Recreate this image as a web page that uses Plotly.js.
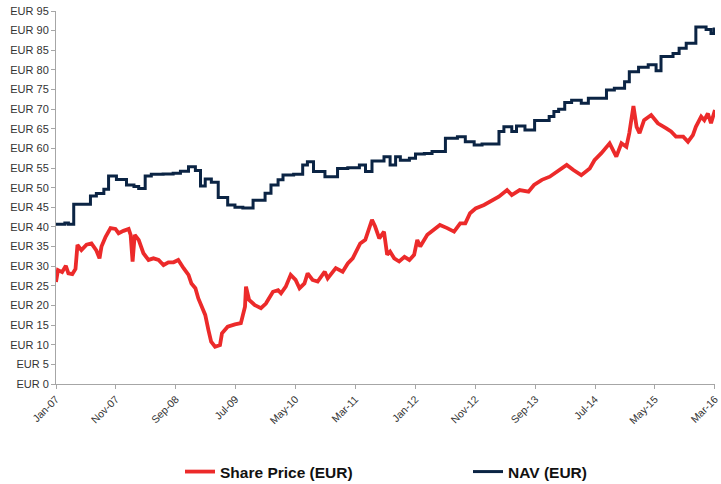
<!DOCTYPE html>
<html>
<head>
<meta charset="utf-8">
<script src="https://cdn.plot.ly/plotly-3.0.1.min.js"></script>
<style>html,body{margin:0;padding:0;background:#fff;}#chart{width:721px;height:484px;}</style>
</head>
<body>
<div id="chart"></div>
<script>
// Share price (EUR)
const shareDates = ["2007-01-01","2007-01-11","2007-02-01","2007-02-20","2007-03-05","2007-03-25","2007-04-10","2007-04-20","2007-05-10","2007-06-05","2007-06-30","2007-07-25","2007-08-10","2007-08-20","2007-09-10","2007-10-05","2007-10-30","2007-11-15","2007-12-10","2008-01-05","2008-01-15","2008-01-25","2008-02-05","2008-02-25","2008-03-20","2008-04-15","2008-05-10","2008-06-05","2008-06-30","2008-07-25","2008-08-20","2008-09-13","2008-10-10","2008-11-04","2008-11-19","2008-12-09","2008-12-24","2009-01-09","2009-01-28","2009-02-13","2009-02-27","2009-03-19","2009-04-13","2009-04-23","2009-05-22","2009-06-28","2009-07-28","2009-08-18","2009-08-23","2009-09-08","2009-10-07","2009-11-07","2009-12-02","2010-01-07","2010-02-02","2010-02-17","2010-03-13","2010-04-07","2010-05-02","2010-05-22","2010-06-16","2010-07-02","2010-07-27","2010-08-22","2010-09-27","2010-10-12","2010-11-22","2010-12-27","2011-01-22","2011-02-16","2011-03-01","2011-03-26","2011-04-21","2011-05-10","2011-05-25","2011-06-10","2011-07-01","2011-07-25","2011-08-10","2011-08-25","2011-09-15","2011-10-10","2011-11-06","2011-12-01","2011-12-25","2012-01-10","2012-01-25","2012-03-01","2012-04-04","2012-05-04","2012-06-10","2012-07-15","2012-08-15","2012-09-10","2012-10-04","2012-11-01","2012-12-14","2013-01-14","2013-02-27","2013-04-10","2013-05-04","2013-06-13","2013-07-28","2013-08-25","2013-10-04","2013-11-13","2013-12-19","2014-02-07","2014-03-13","2014-04-22","2014-06-04","2014-06-28","2014-08-02","2014-09-13","2014-10-17","2014-11-12","2014-12-07","2014-12-22","2015-01-12","2015-01-28","2015-02-12","2015-03-07","2015-04-12","2015-05-16","2015-06-28","2015-07-22","2015-08-16","2015-09-22","2015-10-16","2015-11-10","2015-11-25","2015-12-22","2016-01-07","2016-01-25","2016-02-10","2016-03-01"];
const sharePrice = [26.0,29.0,28.5,30.1,28.2,28.0,29.3,35.4,34.1,35.5,35.8,34.0,32.0,35.0,37.5,39.7,39.5,38.4,39.0,39.5,38.0,31.2,38.0,36.7,33.3,31.6,32.0,31.6,30.3,31.0,31.0,31.6,29.5,27.8,25.6,24.4,21.8,20.1,17.6,13.8,10.8,9.5,9.9,12.9,14.6,15.2,15.5,19.7,24.8,21.4,20.1,19.3,20.5,23.5,23.9,23.1,24.8,27.8,26.5,24.4,25.6,28.2,26.5,26.1,28.6,26.9,29.5,28.6,30.7,32.0,33.3,35.8,36.7,39.7,41.8,40.1,37.1,38.8,32.9,33.7,32.0,31.2,32.4,31.6,32.9,36.7,35.0,38.0,39.2,40.5,39.7,38.8,40.9,40.9,43.5,44.7,45.6,46.4,47.7,49.4,48.1,49.4,49.0,50.7,52.0,52.8,54.1,55.8,54.5,53.2,54.9,57.0,58.8,61.3,57.9,61.3,60.4,63.9,70.8,65.5,63.9,67.2,68.5,66.4,65.1,64.3,63.0,63.0,61.7,63.4,65.5,68.1,67.2,68.9,66.4,69.8];

// NAV (EUR), step values
const navDates = ["2007-01-01","2007-02-15","2007-03-05","2007-04-01","2007-06-25","2007-07-25","2007-09-01","2007-09-25","2007-11-04","2007-12-25","2008-02-01","2008-02-25","2008-03-29","2008-04-29","2008-06-28","2008-08-18","2008-09-24","2008-11-04","2008-12-09","2009-01-04","2009-01-28","2009-02-28","2009-04-04","2009-05-22","2009-06-28","2009-08-07","2009-09-28","2009-11-28","2009-12-28","2010-02-02","2010-02-27","2010-04-22","2010-06-07","2010-07-01","2010-08-01","2010-09-28","2010-12-01","2011-01-22","2011-03-22","2011-04-22","2011-05-25","2011-07-25","2011-08-25","2011-09-22","2011-10-16","2011-12-01","2012-01-01","2012-02-15","2012-03-25","2012-06-01","2012-08-01","2012-09-10","2012-10-25","2012-12-04","2013-02-28","2013-03-25","2013-05-04","2013-05-28","2013-07-10","2013-08-28","2013-11-10","2013-12-04","2013-12-28","2014-01-28","2014-03-04","2014-04-22","2014-05-28","2014-08-28","2014-10-07","2014-11-28","2014-12-22","2015-02-07","2015-03-28","2015-05-07","2015-06-01","2015-08-01","2015-09-01","2015-10-07","2015-11-25","2016-01-16","2016-02-10","2016-02-26","2016-03-01"];
const navValues = [40.7,41.0,40.7,45.8,47.9,48.5,49.6,53.0,52.1,50.7,50.3,49.8,53.0,53.4,53.5,53.7,54.2,55.3,54.4,50.4,52.2,51.4,47.5,45.6,45.0,44.8,46.8,48.6,50.7,52.0,53.2,53.4,55.8,56.6,54.1,52.8,54.9,55.1,55.8,54.1,56.8,57.9,55.8,57.9,57.0,57.5,58.6,58.7,59.2,62.6,63.0,61.7,60.9,61.1,64.3,65.5,64.3,65.7,64.7,67.1,68.1,69.4,70.0,71.7,72.3,71.5,72.8,74.9,75.3,77.0,79.5,80.7,81.3,79.8,83.4,84.2,85.5,86.8,90.9,90.3,89.3,90.4,90.4];

// Axis tick labels
const xTickVals = ["2007-01-01","2007-11-01","2008-09-01","2009-07-01","2010-05-01","2011-03-01","2012-01-01","2012-11-01","2013-09-01","2014-07-01","2015-05-01","2016-03-01"];
const xTickText = ["Jan-07","Nov-07","Sep-08","Jul-09","May-10","Mar-11","Jan-12","Nov-12","Sep-13","Jul-14","May-15","Mar-16"];
const seriesNames = ["Share Price (EUR)","NAV (EUR)"];

const traces = [
  {x: shareDates, y: sharePrice, name: seriesNames[0], type: "scatter", mode: "lines",
   line: {color: "#ec2a2a", width: 3.8}, legend: "legend"},
  {x: navDates, y: navValues, name: seriesNames[1], type: "scatter", mode: "lines",
   line: {color: "#0b2444", width: 3, shape: "hv"}, legend: "legend2"}
];

const legendFont = {family: "Liberation Sans, Arial, sans-serif", size: 15.5, color: "#111111", weight: "bold"};

const layout = {
  width: 721, height: 484,
  margin: {l: 56, r: 6, t: 11, b: 100, autoexpand: false},
  paper_bgcolor: "#ffffff", plot_bgcolor: "#ffffff",
  font: {family: "Liberation Sans, Arial, sans-serif", size: 11, color: "#333333"},
  showlegend: true,
  legend: {orientation: "h", xref: "container", yref: "container",
    x: 180/721, xanchor: "left", y: 12/484, yanchor: "middle",
    font: legendFont, itemwidth: 30},
  legend2: {orientation: "h", xref: "container", yref: "container",
    x: 468/721, xanchor: "left", y: 12/484, yanchor: "middle",
    font: legendFont, itemwidth: 30},
  xaxis: {type: "date", range: ["2007-01-01","2016-03-01 06:00"], tickmode: "array",
    tickvals: xTickVals, ticktext: xTickText, tickangle: -45, ticklabeloverflow: "allow",
    showgrid: false, zeroline: false, showline: true, linecolor: "#a6a6a6", linewidth: 1,
    ticks: "outside", ticklen: 4, tickcolor: "#a6a6a6",
    tickfont: {size: 10.5, color: "#333333"}},
  yaxis: {range: [0, 95], dtick: 5, tick0: 0, tickprefix: "EUR ",
    showgrid: false, zeroline: false, showline: true, linecolor: "#a6a6a6", linewidth: 1,
    ticks: "outside", ticklen: 4, tickcolor: "#a6a6a6",
    tickfont: {size: 11, color: "#333333"}}
};

Plotly.newPlot("chart", traces, layout, {displayModeBar: false, staticPlot: true});
</script>
</body>
</html>
